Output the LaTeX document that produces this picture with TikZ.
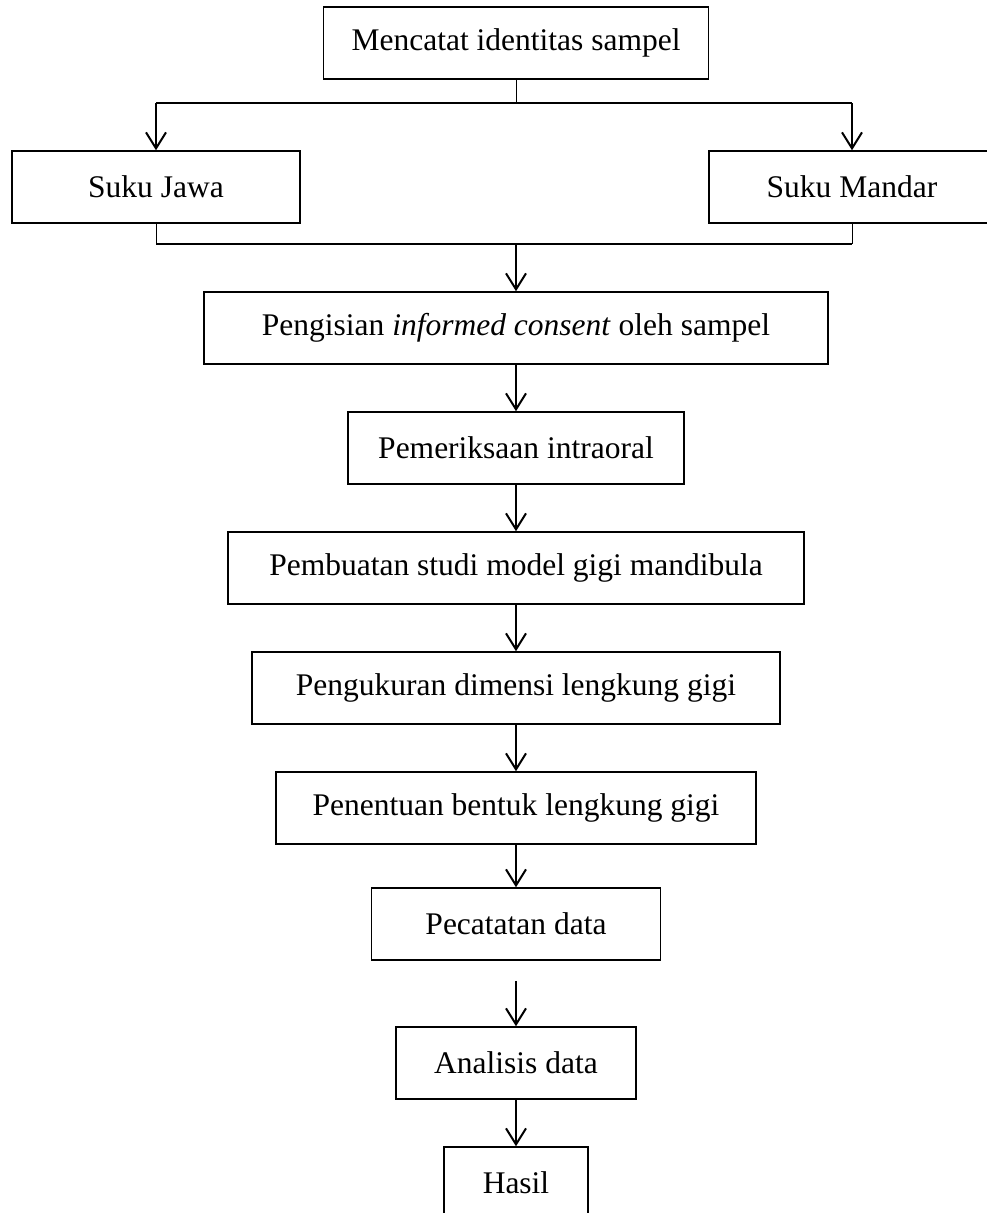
\documentclass[tikz,border=0pt]{standalone}
\usepackage{fontspec}
\setmainfont{Liberation Serif}
\usetikzlibrary{arrows.meta}

\tikzset{
    kotak/.style={draw, line width=1.5pt, minimum height=72pt, inner sep=0pt,
        font=\fontsize{31.5}{38}\selectfont},
    panah/.style={line width=2pt, -{Straight Barb[length=16pt, width=20pt, line width=2pt]}},
    garis/.style={line width=2pt},
    garistipis/.style={line width=1pt}
}

\begin{document}
\begin{tikzpicture}[x=1pt, y=-1pt]
    \useasboundingbox (0,0) rectangle (986,1213);

    % Identitas sampel dan pembagian suku
    \node[kotak, minimum width=385pt] (mulai) at (516, 43) {Mencatat identitas sampel};
    \node[kotak, minimum width=288pt] (jawa) at (156, 187) {Suku Jawa};
    \node[kotak, minimum width=286pt] (mandar) at (852, 187) {Suku Mandar};
    \coordinate (cabang) at (516, 103);
    \coordinate (gabung) at (516, 244);

    \draw[garistipis] (mulai.south) -- (cabang);
    \draw[garis] (cabang -| jawa.north) -- (cabang -| mandar.north);
    \foreach \s in {jawa, mandar} {
        \draw[panah] (cabang -| \s.north) -- (\s.north);
        \draw[garistipis] (\s.south) -- (gabung -| \s.south);
    }
    \draw[garis] (gabung -| jawa.south) -- (gabung -| mandar.south);

    % Tahapan penelitian
    \node[kotak, minimum width=624pt] (consent) at (516, 328) {Pengisian \textit{informed consent} oleh sampel};
    \node[kotak, minimum width=336pt] (intraoral) at (516, 448) {Pemeriksaan intraoral};
    \node[kotak, minimum width=576pt] (studi) at (516, 568) {Pembuatan studi model gigi mandibula};
    \node[kotak, minimum width=528pt] (ukur) at (516, 688) {Pengukuran dimensi lengkung gigi};
    \node[kotak, minimum width=480pt] (bentuk) at (516, 808) {Penentuan bentuk lengkung gigi};
    \node[kotak, minimum width=289pt] (catat) at (516, 924) {Pecatatan data};
    \node[kotak, minimum width=240pt] (analisis) at (516, 1063) {Analisis data};
    \node[kotak, minimum width=144pt] (hasil) at (516, 1183) {Hasil};

    \draw[panah] (gabung) -- (consent.north -| gabung);
    \foreach \a/\b in {consent/intraoral, intraoral/studi, studi/ukur, ukur/bentuk,
                      bentuk/catat, analisis/hasil} {
        \draw[panah] (\a) -- (\b);
    }
    \draw[panah, shorten <=20pt] (catat) -- (analisis);
\end{tikzpicture}
\end{document}
